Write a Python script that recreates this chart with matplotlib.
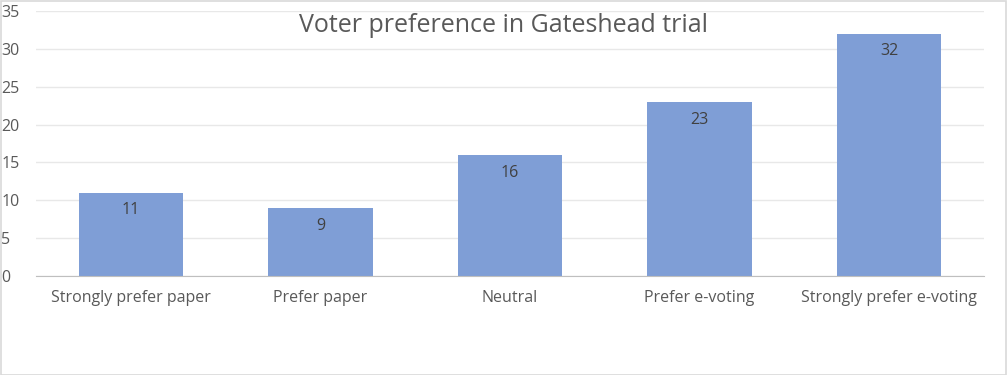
import matplotlib
matplotlib.use("Agg")
import matplotlib.pyplot as plt
from matplotlib.patches import Rectangle

categories = ["Strongly prefer paper", "Prefer paper", "Neutral", "Prefer e-voting", "Strongly prefer e-voting"]
values = [11, 9, 16, 23, 32]
yticks = [0, 5, 10, 15, 20, 25, 30, 35]
title = "Voter preference in Gateshead trial"

plt.rcParams['font.family'] = ['Open Sans', 'DejaVu Sans']
W, H = 1007, 375
fig = plt.figure(figsize=(W/100, H/100), dpi=100)
ax = fig.add_axes([36/W, 1-276/H, (984-36)/W, (276-11)/H])

txt = '#595959'
bars = ax.bar(range(len(categories)), values, width=0.55, color='#7F9ED6', zorder=2)
for i, v in enumerate(values):
    ax.annotate(str(v), (i, v), xytext=(0, -7), textcoords='offset points',
                ha='center', va='top', fontsize=11.5, color='#404040')

ax.set_xlim(-0.5, len(categories)-0.5)
ax.set_ylim(0, 35)
ax.set_yticks(yticks)
ax.set_xticks(range(len(categories)))
ax.set_xticklabels(categories)
ax.tick_params(axis='x', length=0, labelsize=11.5, colors=txt, pad=10)
ax.tick_params(axis='y', length=0, labelsize=11.5, colors=txt, pad=25)
for lab in ax.get_yticklabels():
    lab.set_horizontalalignment('left')
ax.grid(axis='y', color='#E8E8E8', linewidth=1, zorder=0)
for s in ['top', 'right', 'left']:
    ax.spines[s].set_visible(False)
ax.spines['bottom'].set_color('#BFBFBF')
ax.spines['bottom'].set_zorder(3)

fig.text(0.5, 1-26/H, title, ha='center', va='center', fontsize=18, color=txt)
fig.patches.append(Rectangle((0.5/W, 0.5/H), 1-1.5/W, 1-1.5/H, transform=fig.transFigure,
                             fill=False, edgecolor='#D9D9D9', linewidth=1.2))
fig.savefig('out.png', dpi=100)
